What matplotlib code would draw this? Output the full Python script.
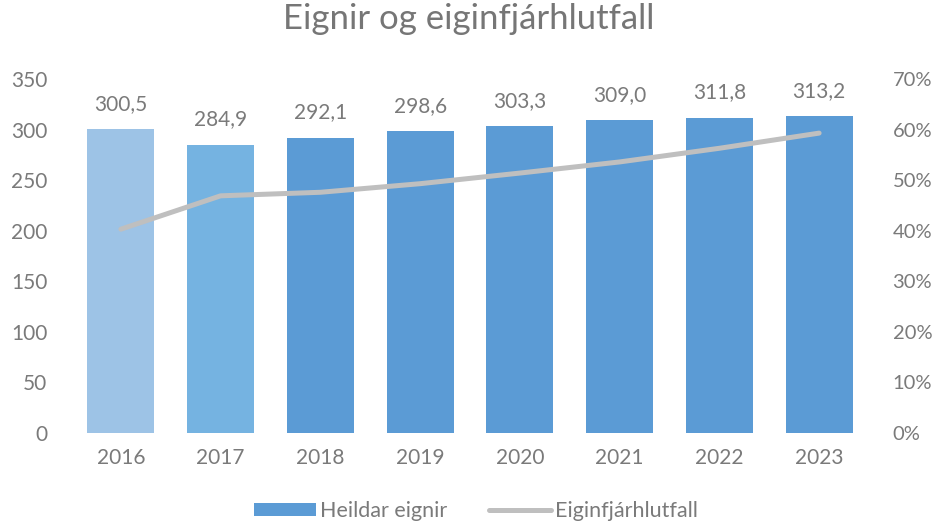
import matplotlib.pyplot as plt
from matplotlib.ticker import FuncFormatter
from matplotlib.patches import Patch

plt.rcParams['font.family'] = ['Lato', 'DejaVu Sans']

years = ['2016', '2017', '2018', '2019', '2020', '2021', '2022', '2023']
total_assets = [300.5, 284.9, 292.1, 298.6, 303.3, 309.0, 311.8, 313.2]
equity_ratio = [40.3, 46.9, 47.6, 49.3, 51.4, 53.6, 56.3, 59.3]
bar_colors = ['#9DC3E6', '#75B3E1', '#5B9BD5', '#5B9BD5', '#5B9BD5', '#5B9BD5', '#5B9BD5', '#5B9BD5']

txt = '#7A7A7A'

fig = plt.figure(figsize=(9.37, 5.31), dpi=100)
ax = fig.add_axes([71 / 937, 1 - 433 / 531, (869 - 71) / 937, (433 - 79) / 531])
ax2 = ax.twinx()

x = range(len(years))
ax.bar(x, total_assets, width=0.67, color=bar_colors, zorder=2)
ax.set_ylim(0, 350)
ax.set_xlim(-0.5, len(years) - 0.5)
ax.set_yticks(range(0, 351, 50))
ax.set_xticks(list(x))
ax.set_xticklabels(years)

for xi, v in zip(x, total_assets):
    ax.annotate(f'{v:.1f}'.replace('.', ','), (xi, v), xytext=(0, 11), textcoords='offset points',
                ha='center', va='bottom', fontsize=15, color=txt)

line, = ax2.plot(list(x), equity_ratio, color='#BFBFBF', linewidth=3.6,
                 solid_capstyle='round', zorder=3)
ax2.set_ylim(0, 70)
ax2.set_yticks(range(0, 71, 10))
ax2.yaxis.set_major_formatter(FuncFormatter(lambda v, p: f'{v:.0f}%'))

for a in (ax, ax2):
    for s in a.spines.values():
        s.set_visible(False)
    a.tick_params(length=0, labelsize=15, labelcolor=txt)
ax.tick_params(axis='y', pad=17)
ax2.tick_params(axis='y', pad=17, labelsize=14.5)
ax.tick_params(axis='x', pad=11)

fig.suptitle('Eignir og eiginfjárhlutfall', y=0.995, fontsize=25, color='#767676')

bar_handle = Patch(facecolor='#5B9BD5')
fig.legend([bar_handle, line], ['Heildar eignir', 'Eiginfjárhlutfall'], loc='lower center',
           bbox_to_anchor=(0.508, -0.018), ncol=2, frameon=False, fontsize=15.5,
           labelcolor=txt, handlelength=2.9, handleheight=0.6, handletextpad=0.2,
           columnspacing=1.9)

fig.savefig('out.png', dpi=100, facecolor='white')
